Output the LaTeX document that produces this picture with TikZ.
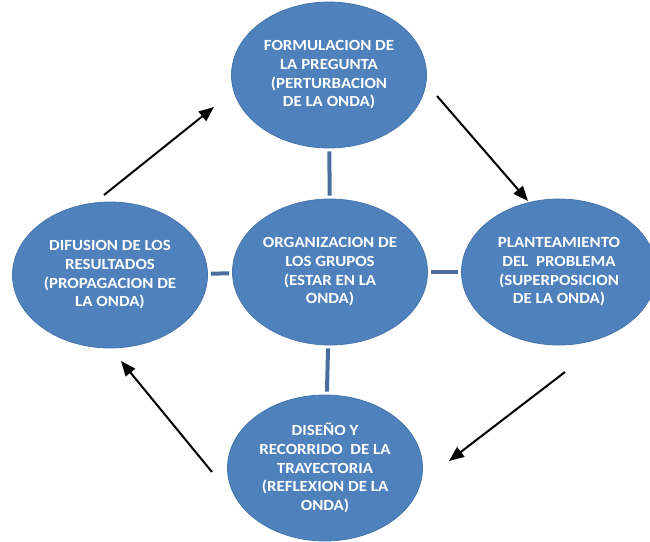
\documentclass[tikz,border=0pt]{standalone}
\usepackage{fontspec}
\setmainfont{Carlito}[FakeStretch=1.09]
\usetikzlibrary{shapes.geometric,arrows.meta}
\definecolor{ellfill}{HTML}{4F81BD}
\definecolor{ellline}{HTML}{4775AD}
\definecolor{linkcol}{HTML}{4A6E9E}
\tikzset{
  bubble/.style={ellipse, fill=ellfill, draw=ellline, line width=0.8pt,
    minimum width=195pt, minimum height=146pt, inner sep=0pt,
    text=white, align=center, font=\fontsize{15.5}{18.7}\selectfont\bfseries},
  link/.style={draw=linkcol, line width=4pt, shorten >=3pt, shorten <=3pt},
  flow/.style={draw=black, line width=2pt, -{Triangle[length=15pt,width=12pt]}}
}
\begin{document}
\begin{tikzpicture}[x=1pt,y=-1pt]
\useasboundingbox (0,0) rectangle (650,541);
\node[bubble] (top) at (329,75) {FORMULACION DE\\LA PREGUNTA\\(PERTURBACION\\DE LA ONDA)};
\node[bubble] (mid) at (330,272) {ORGANIZACION DE\\LOS GRUPOS\\(ESTAR EN LA\\ONDA)};
\node[bubble] (left) at (110,275) {DIFUSION DE LOS\\RESULTADOS\\(PROPAGACION DE\\LA ONDA)};
\node[bubble] (right) at (559,272) {PLANTEAMIENTO\\DEL \ PROBLEMA\\(SUPERPOSICION\\DE LA ONDA)};
\node[bubble] (bot) at (325,468) {DISEÑO Y\\RECORRIDO \ DE LA\\TRAYECTORIA\\(REFLEXION DE LA\\ONDA)};
\draw[link] (top) -- (mid);
\draw[link] (mid) -- (bot);
\draw[link] (left) -- (mid);
\draw[link] (mid) -- (right);
\coordinate (a1s) at (104,195); \coordinate (a1e) at (214,107);
\coordinate (a2s) at (437,96); \coordinate (a2e) at (528,201);
\coordinate (a3s) at (565,372); \coordinate (a3e) at (449,461);
\coordinate (a4s) at (212,472); \coordinate (a4e) at (121,361);
\draw[flow] (a1s) -- (a1e);
\draw[flow] (a2s) -- (a2e);
\draw[flow] (a3s) -- (a3e);
\draw[flow] (a4s) -- (a4e);
\end{tikzpicture}
\end{document}
